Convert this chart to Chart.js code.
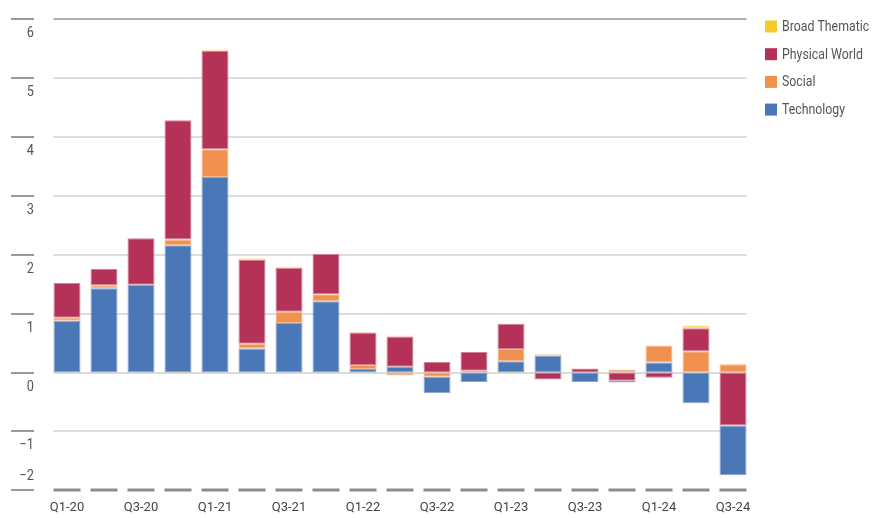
<!DOCTYPE html>
<html>
<head>
<meta charset="utf-8">
<script src="https://cdn.jsdelivr.net/npm/chart.js@4.4.0/dist/chart.umd.min.js"></script>
<style>
  html, body { margin: 0; padding: 0; background: #fff; }
</style>
</head>
<body>
<canvas id="myChart" width="876" height="518"></canvas>
<script>
const trimestres = ['Q1-20', 'Q2-20', 'Q3-20', 'Q4-20', 'Q1-21', 'Q2-21', 'Q3-21', 'Q4-21',
    'Q1-22', 'Q2-22', 'Q3-22', 'Q4-22', 'Q1-23', 'Q2-23', 'Q3-23', 'Q4-23',
    'Q1-24', 'Q2-24', 'Q3-24'];

const tecnologia     = [0.88, 1.43, 1.49, 2.16, 3.32, 0.41, 0.84, 1.21, 0.06, 0.10, -0.28, -0.16, 0.19, 0.29, -0.16, -0.03, 0.17, -0.52, -0.84];
const social         = [0.05, 0.05, 0.00, 0.10, 0.47, 0.08, 0.19, 0.12, 0.07, -0.05, -0.07, 0.03, 0.21, 0.02, 0.00, 0.05, 0.29, 0.36, 0.14];
const mundoFisico    = [0.59, 0.28, 0.79, 2.02, 1.67, 1.43, 0.75, 0.68, 0.55, 0.51, 0.18, 0.32, 0.43, -0.12, 0.07, -0.14, -0.09, 0.39, -0.90];
const tematicaAmplia = [0.00, 0.00, 0.00, -0.03, 0.02, 0.02, 0.02, 0.00, 0.01, 0.02, 0.00, 0.00, -0.02, 0.00, 0.00, 0.00, 0.00, 0.05, 0.00];

const marcasEje = [6, 5, 4, 3, 2, 1, 0, -1, -2];

const FUENTE = '"Roboto", sans-serif';
const ANCHO_BARRA = 0.73;

// orden de apilado desde el cero hacia arriba
const series = [
    { nombre: 'Technology', valores: tecnologia, color: '#4a77b6', borde: '#8aa6d2' },
    { nombre: 'Social', valores: social, color: '#f09150', borde: '#f6b98f' },
    { nombre: 'Physical World', valores: mundoFisico, color: '#b43258', borde: '#d27f97' },
    { nombre: 'Broad Thematic', valores: tematicaAmplia, color: '#f5cc2c', borde: '#f9e08a' }
];

function armarDataset(s, parte) {
    return {
        label: s.nombre,
        data: s.valores.map(v => parte(v) ? v : null),
        backgroundColor: s.color,
        borderColor: s.borde,
        borderWidth: 1,
        borderSkipped: false,
        stack: 'total',
        barPercentage: ANCHO_BARRA,
        categoryPercentage: 1
    };
}

// positivos: Technology abajo; negativos: Physical World pegado al cero
const positivos = series.map(s => armarDataset(s, v => v > 0));
const negativos = series.slice().reverse().map(s => armarDataset(s, v => v < 0));

// texto angosto, imitando la fuente condensada del original
function textoAngosto(ctx, texto, x, y, escala) {
    ctx.save();
    ctx.translate(x, y);
    ctx.scale(escala, 1);
    ctx.fillText(texto, 0, 0);
    ctx.restore();
}

const lineasFondo = {
    id: 'lineasFondo',
    beforeDatasetsDraw(chart) {
        const { ctx, scales: { x, y } } = chart;
        const paso = x.getPixelForValue(1) - x.getPixelForValue(0);
        const medio = paso * ANCHO_BARRA / 2;
        const izq = x.getPixelForValue(0) - medio;
        const der = x.getPixelForValue(trimestres.length - 1) + medio;
        const minimo = Math.min(...marcasEje);
        const maximo = Math.max(...marcasEje);

        ctx.save();
        marcasEje.forEach(v => {
            const py = Math.round(y.getPixelForValue(v));

            // marca corta a la izquierda
            ctx.strokeStyle = '#9a9a9a';
            ctx.lineWidth = 2;
            ctx.beginPath();
            ctx.moveTo(11, py);
            ctx.lineTo(34, py);
            ctx.stroke();

            if (v === minimo) {
                ctx.strokeStyle = '#8c8c8c';
                ctx.lineWidth = 3;
                trimestres.forEach((t, i) => {
                    const cx = x.getPixelForValue(i);
                    ctx.beginPath();
                    ctx.moveTo(cx - medio, py);
                    ctx.lineTo(cx + medio, py);
                    ctx.stroke();
                });
            } else {
                ctx.strokeStyle = v === maximo ? '#b0b0b0' : '#dcdcdc';
                ctx.lineWidth = 2;
                ctx.beginPath();
                ctx.moveTo(izq, py);
                ctx.lineTo(der, py);
                ctx.stroke();
            }

            const texto = v < 0 ? '\u2212' + Math.abs(v) : String(v);
            ctx.fillStyle = '#555';
            ctx.font = '15px ' + FUENTE;
            ctx.textAlign = 'right';
            ctx.textBaseline = 'middle';
            textoAngosto(ctx, texto, 34, v === minimo ? py - 14 : py + 14, 0.85);
        });
        ctx.restore();
    },
    afterDraw(chart) {
        const { ctx } = chart;
        ctx.save();
        ctx.font = '14px ' + FUENTE;
        ctx.textBaseline = 'middle';
        ctx.textAlign = 'left';
        series.slice().reverse().forEach((s, i) => {
            const cy = 26.5 + i * 27.7;
            ctx.fillStyle = s.color;
            ctx.fillRect(765, cy - 6, 12, 12);
            ctx.fillStyle = '#555';
            textoAngosto(ctx, s.nombre, 782, cy + 1, 0.88);
        });
        ctx.restore();
    }
};

new Chart(document.getElementById('myChart').getContext('2d'), {
    type: 'bar',
    data: {
        labels: trimestres,
        datasets: positivos.concat(negativos)
    },
    options: {
        responsive: false,
        animation: false,
        devicePixelRatio: 1,
        layout: {
            padding: { left: 48.5, top: 19, right: 124.5, bottom: -8 }
        },
        plugins: {
            legend: { display: false },
            tooltip: { enabled: false }
        },
        scales: {
            x: {
                stacked: true,
                grid: { display: false, drawTicks: false },
                border: { display: false },
                ticks: {
                    autoSkip: false,
                    maxRotation: 0,
                    padding: 10,
                    color: '#444',
                    font: { family: FUENTE, size: 13 },
                    callback: (valor, i) => i % 2 === 0 ? trimestres[i] : ''
                }
            },
            y: {
                stacked: true,
                display: false,
                min: -2,
                max: 6
            }
        }
    },
    plugins: [lineasFondo]
});
</script>
</body>
</html>
